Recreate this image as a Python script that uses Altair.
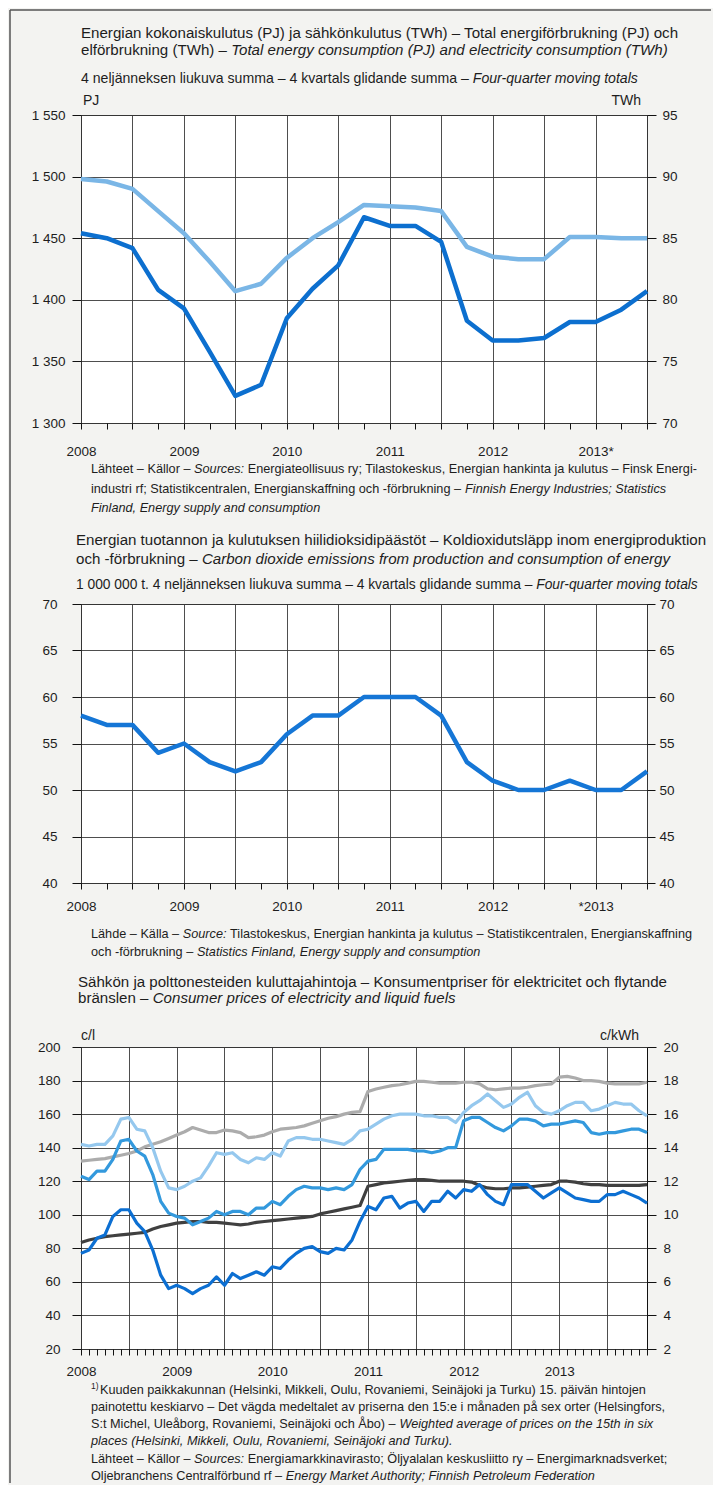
import altair as alt
import pandas as pd

# ------------------------------------------------------------------ data
# Panel 1 + 2: four-quarter moving totals, plotted at quarter steps 2008 … 2013.5
QUARTER = list(range(23))
ENERGY_PJ = [1454, 1450, 1442, 1408, 1393, 1358, 1322, 1331, 1385, 1409, 1428, 1467,
             1460, 1460, 1447, 1383, 1367, 1367, 1369, 1382, 1382, 1392, 1407]
ELECTRICITY_TWH = [89.8, 89.6, 89.0, 87.2, 85.4, 83.1, 80.7, 81.3, 83.4, 85.0, 86.3, 87.7,
                   87.6, 87.5, 87.2, 84.3, 83.5, 83.3, 83.3, 85.1, 85.1, 85.0, 85.0]
CO2_MILL_T = [58, 57, 57, 54, 55, 53, 52, 53, 56, 58, 58, 60,
              60, 60, 58, 53, 51, 50, 50, 51, 50, 50, 52]

# Panel 3: monthly prices Jan 2008 … Dec 2013
MONTH = list(range(72))
LIGHT_FUEL_OIL = [77, 79, 86, 88, 99, 103, 103, 95, 90, 79, 64, 56,
                  58, 56, 53, 56, 58, 63, 58, 65, 62, 64, 66, 64,
                  69, 68, 73, 77, 80, 81, 78, 77, 80, 79, 85, 96,
                  105, 103, 110, 111, 104, 107, 108, 102, 108, 108, 114, 110,
                  115, 114, 118, 112, 108, 106, 118, 118, 118, 114, 110, 113,
                  116, 113, 110, 109, 108, 108, 112, 112, 114, 112, 110, 107]
DIESEL = [123, 121, 126, 126, 133, 144, 145, 138, 135, 124, 108, 101,
          99, 98, 94, 96, 98, 102, 100, 102, 102, 100, 104, 104,
          108, 106, 111, 115, 117, 116, 116, 115, 116, 115, 118, 127,
          132, 133, 139, 139, 139, 139, 138, 138, 137, 138, 140, 140,
          156, 158, 158, 155, 152, 150, 153, 157, 157, 156, 153, 154,
          154, 155, 156, 155, 149, 148, 149, 149, 150, 151, 151, 149]
PETROL = [142, 141, 142, 142, 147, 157, 158, 151, 150, 140, 126, 116,
          115, 117, 120, 122, 129, 137, 136, 137, 133, 131, 134, 133,
          137, 135, 144, 146, 146, 145, 145, 144, 143, 142, 145, 150,
          151, 154, 157, 159, 160, 160, 160, 159, 159, 158, 158, 155,
          161, 165, 168, 172, 168, 164, 166, 170, 173, 165, 161, 160,
          162, 165, 167, 167, 162, 163, 165, 167, 166, 166, 162, 159]
ELEC_HOUSEHOLD = [13.2, 13.25, 13.3, 13.35, 13.45, 13.55, 13.65, 13.8, 14.05, 14.2, 14.35, 14.55,
                  14.75, 14.95, 15.2, 15.05, 14.9, 14.9, 15.05, 15.0, 14.9, 14.6, 14.65, 14.75,
                  14.95, 15.1, 15.15, 15.2, 15.3, 15.45, 15.6, 15.75, 15.85, 16.0, 16.1, 16.15,
                  17.35, 17.5, 17.6, 17.7, 17.75, 17.85, 17.95, 17.95, 17.9, 17.85, 17.85, 17.85,
                  17.9, 17.9, 17.8, 17.5, 17.45, 17.5, 17.55, 17.55, 17.6, 17.7, 17.75, 17.8,
                  18.2, 18.25, 18.15, 18.0, 18.0, 17.95, 17.85, 17.8, 17.8, 17.8, 17.8, 17.9]
ELEC_HEATING = [8.35, 8.5, 8.6, 8.7, 8.75, 8.8, 8.85, 8.9, 8.95, 9.15, 9.3, 9.4,
                9.5, 9.55, 9.6, 9.6, 9.55, 9.55, 9.5, 9.45, 9.4, 9.45, 9.55, 9.6,
                9.65, 9.7, 9.75, 9.8, 9.85, 9.9, 10.05, 10.15, 10.25, 10.35, 10.45, 10.55,
                11.7, 11.8, 11.9, 11.95, 12.0, 12.05, 12.1, 12.1, 12.05, 12.0, 12.0, 12.0,
                12.0, 11.95, 11.75, 11.6, 11.55, 11.55, 11.6, 11.6, 11.65, 11.7, 11.75, 11.8,
                12.0, 12.0, 11.95, 11.85, 11.8, 11.8, 11.75, 11.75, 11.75, 11.75, 11.75, 11.8]

YEAR_LABELS_1 = ["2008", "2009", "2010", "2011", "2012", "2013*"]
YEAR_LABELS_2 = ["2008", "2009", "2010", "2011", "2012", "*2013"]
YEAR_LABELS_3 = ["2008", "2009", "2010", "2011", "2012", "2013"]
PJ_TICKS = [1300, 1350, 1400, 1450, 1500, 1550]
TWH_TICKS = [70, 75, 80, 85, 90, 95]
CO2_TICKS = [40, 45, 50, 55, 60, 65, 70]
CL_TICKS = [20, 40, 60, 80, 100, 120, 140, 160, 180, 200]
KWH_TICKS = [2, 4, 6, 8, 10, 12, 14, 16, 18, 20]

# ------------------------------------------------------------------ styles
TFONT = "Liberation Sans"
AFONT = "Liberation Sans"
A_SIZE = 13.5
INK = "#1d1d1d"
BG = "#f3f3f1"
W_PLOT = 566
T_SIZE, S_SIZE, N_SIZE = 15.1, 14.1, 12.7

_W = {}
for chars, w in [("ABEKPSVXYÄÅ", 667), ("CDHNRUw", 722), ("GOQÖ", 778), ("FTZ", 611),
                 ("Ift .,:;/!", 278), ("Jckvxyzs", 500), ("Labdeghnopqu0123456789äöåé–", 556),
                 ("Mm", 833), ("W", 944), ("ijl", 222), ("r()-", 333), ("*", 389)]:
    for ch in chars:
        _W[ch] = w


def tw(s, size):
    return sum(_W.get(c, 556) for c in s) * size / 1000.0


DUMMY = pd.DataFrame({"k": [0]})


def text_lines(lines, x0, size, font=TFONT, color=INK):
    out = []
    for y, segs in lines:
        x = x0
        for s, it in segs:
            lead = len(s) - len(s.lstrip(" "))
            body = s.strip(" ")
            if body:
                out.append(alt.Chart(DUMMY).mark_text(
                    align="left", baseline="alphabetic", font=font, fontSize=size,
                    fontStyle="italic" if it else "normal", color=color
                ).encode(x=alt.value(round(x + tw(" " * lead, size), 2)),
                         y=alt.value(y), text=alt.value(body)))
            x += tw(s, size)
    return out


def label(txt, x, y, align="left", size=14):
    return alt.Chart(DUMMY).mark_text(
        align=align, baseline="alphabetic", font=AFONT, fontSize=size, color=INK
    ).encode(x=alt.value(x), y=alt.value(y), text=alt.value(txt))


def x_axis(values, grid_step, label_step, labels, pad):
    expr = ""
    for i, lab in enumerate(labels):
        expr += f"datum.value === {i * label_step} ? '{lab}' : "
    expr += "''"
    return alt.Axis(values=values, title=None, grid=True,
                    gridOpacity={"condition": {"test": f"datum.value % {grid_step} === 0", "value": 1},
                                 "value": 0},
                    labelExpr=expr, tickSize=6, labelPadding=pad, labelOverlap=False,
                    labelFlush=False, labelAlign="center")


def y_axis(values, orient, grid, tick, pad, expr=None):
    kw = dict(values=values, orient=orient, title=None, grid=grid, tickSize=tick,
              labelPadding=pad, labelOverlap=False, labelFlush=False)
    if expr:
        kw["labelExpr"] = expr
    return alt.Axis(**kw)


# ------------------------------------------------------------------ panel 1
df1 = pd.DataFrame({"q": QUARTER, "pj": ENERGY_PJ, "twh": ELECTRICITY_TWH, "co2": CO2_MILL_T})
X1 = alt.X("q:Q", scale=alt.Scale(domain=[0, 22], nice=False, zero=False),
           axis=x_axis(QUARTER, 2, 4, YEAR_LABELS_1, 15))

pj_line = alt.Chart(df1).mark_line(color="#0c6fcf", strokeWidth=4.5, strokeJoin="round").encode(
    x=X1, y=alt.Y("pj:Q", scale=alt.Scale(domain=[1300, 1550], nice=False, zero=False),
                  axis=y_axis(PJ_TICKS, "left", True, 9, 7,
                              "replace(format(datum.value, ','), ',', ' ')")))
twh_line = alt.Chart(df1).mark_line(color="#7ab6e6", strokeWidth=4.5, strokeJoin="round").encode(
    x=X1, y=alt.Y("twh:Q", scale=alt.Scale(domain=[70, 95], nice=False, zero=False),
                  axis=y_axis(TWH_TICKS, "right", False, 9, 6)))

frame_top = alt.Chart(DUMMY).mark_rule(color="#555", strokeWidth=1.5).encode(
    x=alt.value(-71), x2=alt.value(630), y=alt.value(-105))
frame_left = alt.Chart(DUMMY).mark_rule(color="#555", strokeWidth=1.5).encode(
    x=alt.value(-71), y=alt.value(-105), y2=alt.value(1368))

texts1 = text_lines([
    (-77, [("Energian kokonaiskulutus (PJ) ja sähkönkulutus (TWh) – Total energiförbrukning (PJ) och", False)]),
    (-60, [("elförbrukning (TWh) – ", False),
           ("Total energy consumption (PJ) and electricity consumption (TWh)", True)]),
], 0, T_SIZE) + text_lines([
    (-32, [("4 neljänneksen liukuva summa – 4 kvartals glidande summa – ", False),
           ("Four-quarter moving totals", True)]),
], 0, S_SIZE) + text_lines([
    (358, [("Lähteet – Källor – ", False), ("Sources:", True),
           (" Energiateollisuus ry; Tilastokeskus, Energian hankinta ja kulutus – Finsk Energi-", False)]),
    (378, [("industri rf; Statistikcentralen, Energianskaffning och -förbrukning – ", False),
           ("Finnish Energy Industries; Statistics", True)]),
    (397, [("Finland, Energy supply and consumption", True)]),
], 10, N_SIZE) + [label("PJ", 2, -10), label("TWh", W_PLOT - 6, -10, "right")]

panel1 = alt.layer(frame_top, frame_left, pj_line, twh_line, *texts1).resolve_scale(
    y="independent").properties(width=W_PLOT, height=308)

# ------------------------------------------------------------------ panel 2
X2 = alt.X("q:Q", scale=alt.Scale(domain=[0, 22], nice=False, zero=False),
           axis=x_axis(QUARTER, 2, 4, YEAR_LABELS_2, 10))
co2_line = alt.Chart(df1).mark_line(color="#1576d6", strokeWidth=4.5, strokeJoin="round").encode(
    x=X2, y=alt.Y("co2:Q", scale=alt.Scale(domain=[40, 70], nice=False, zero=False),
                  axis=y_axis(CO2_TICKS, "left", True, 9, 15)))
co2_right = alt.Chart(df1).mark_line(opacity=0).encode(
    x=X2, y=alt.Y("co2:Q", scale=alt.Scale(domain=[40, 70], nice=False, zero=False),
                  axis=y_axis(CO2_TICKS, "right", False, 8, 4)))

texts2 = text_lines([
    (-59, [("Energian tuotannon ja kulutuksen hiilidioksidipäästöt – Koldioxidutsläpp inom energiproduktion", False)]),
    (-40, [("och -förbrukning – ", False),
           ("Carbon dioxide emissions from production and consumption of energy", True)]),
], -5, T_SIZE) + text_lines([
    (-15, [("1 000 000 t. 4 neljänneksen liukuva summa – 4 kvartals glidande summa – ", False),
           ("Four-quarter moving totals", True)]),
], -5, S_SIZE - 0.3) + text_lines([
    (334, [("Lähde – Källa – ", False), ("Source:", True),
           (" Tilastokeskus, Energian hankinta ja kulutus – Statistikcentralen, Energianskaffning", False)]),
    (352, [("och -förbrukning – ", False), ("Statistics Finland, Energy supply and consumption", True)]),
], 10, N_SIZE)

panel2 = alt.layer(co2_line, co2_right, *texts2).resolve_scale(
    y="independent").properties(width=W_PLOT, height=279)

# ------------------------------------------------------------------ panel 3
SERIES_C_L = [("Kevyt polttoöljy", LIGHT_FUEL_OIL), ("Diesel", DIESEL), ("Bensiini", PETROL)]
SERIES_C_KWH = [("Kotitaloussähkö", ELEC_HOUSEHOLD), ("Sähkölämmitys", ELEC_HEATING)]
COLORS = {"Kotitaloussähkö": "#acacac", "Sähkölämmitys": "#404040",
          "Bensiini": "#95c8ee", "Diesel": "#3399dd", "Kevyt polttoöljy": "#0c6fd2"}

rows_l = [{"m": m, "s": name, "v": v} for name, vals in SERIES_C_L[::-1] for m, v in zip(MONTH, vals)]
rows_r = [{"m": m, "s": name, "v": v} for name, vals in SERIES_C_KWH for m, v in zip(MONTH, vals)]
df3l = pd.DataFrame(rows_l)
df3r = pd.DataFrame(rows_r)

X3 = alt.X("m:Q", scale=alt.Scale(domain=[0, 71], nice=False, zero=False),
           axis=x_axis(MONTH, 6, 12, YEAR_LABELS_3, 9))
COL = alt.Color("s:N", scale=alt.Scale(domain=list(COLORS.keys()), range=list(COLORS.values())),
                legend=None)

gray_lines = alt.Chart(df3r).mark_line(strokeWidth=3.2, strokeJoin="round").encode(
    x=X3, y=alt.Y("v:Q", scale=alt.Scale(domain=[2, 20], nice=False, zero=False),
                  axis=y_axis(KWH_TICKS, "right", False, 9, 7)),
    color=COL, detail="s:N")
blue_lines = alt.Chart(df3l).mark_line(strokeWidth=3.2, strokeJoin="round").encode(
    x=X3, y=alt.Y("v:Q", scale=alt.Scale(domain=[20, 200], nice=False, zero=False),
                  axis=y_axis(CL_TICKS, "left", True, 9, 12)),
    color=COL, detail="s:N")

sup = alt.Chart(DUMMY).mark_text(align="left", baseline="alphabetic", font=TFONT, fontSize=8.5,
                                 color=INK).encode(x=alt.value(10), y=alt.value(342), text=alt.value("1)"))

texts3 = text_lines([
    (-60, [("Sähkön ja polttonesteiden kuluttajahintoja – Konsumentpriser för elektricitet och flytande", False)]),
    (-44, [("bränslen – ", False), ("Consumer prices of electricity and liquid fuels", True)]),
], -3, T_SIZE) + text_lines([
    (347, [("Kuuden paikkakunnan (Helsinki, Mikkeli, Oulu, Rovaniemi, Seinäjoki ja Turku) 15. päivän hintojen", False)]),
], 19, N_SIZE) + text_lines([
    (364, [("painotettu keskiarvo – Det vägda medeltalet av priserna den 15:e i månaden på sex orter (Helsingfors,", False)]),
    (381, [("S:t Michel, Uleåborg, Rovaniemi, Seinäjoki och Åbo) – ", False),
           ("Weighted average of prices on the 15th in six", True)]),
    (398, [("places (Helsinki, Mikkeli, Oulu, Rovaniemi, Seinäjoki and Turku).", True)]),
    (416, [("Lähteet – Källor – ", False), ("Sources:", True),
           (" Energiamarkkinavirasto; Öljyalalan keskusliitto ry – Energimarknadsverket;", False)]),
    (433, [("Oljebranchens Centralförbund rf – ", False),
           ("Energy Market Authority; Finnish Petroleum Federation", True)]),
], 10, N_SIZE) + [sup, label("c/l", 0, -7), label("c/kWh", W_PLOT - 8, -7, "right")]

panel3 = alt.layer(gray_lines, blue_lines, *texts3).resolve_scale(
    y="independent").properties(width=W_PLOT, height=302)


# ------------------------------------------------------------------ assemble
def spacer(h):
    return alt.Chart(DUMMY).mark_point(opacity=0).encode(
        x=alt.value(0), y=alt.value(0)
    ).properties(width=W_PLOT, height=h,
                 view=alt.ViewBackground(strokeOpacity=0, fillOpacity=0))


chart = alt.vconcat(panel1, spacer(181), panel2, spacer(164), panel3,
                    spacing=0, bounds="flush", padding=0, background=BG).configure_view(
    stroke="#111", strokeWidth=1, fill="white"
).configure_axis(
    domain=False, tickColor="#111", tickWidth=1, gridColor="#3a3a3a", gridWidth=0.9,
    labelFont=AFONT, labelFontSize=A_SIZE, labelColor=INK
)

chart.save("out.html", embed_options={"renderer": "svg", "actions": False})
